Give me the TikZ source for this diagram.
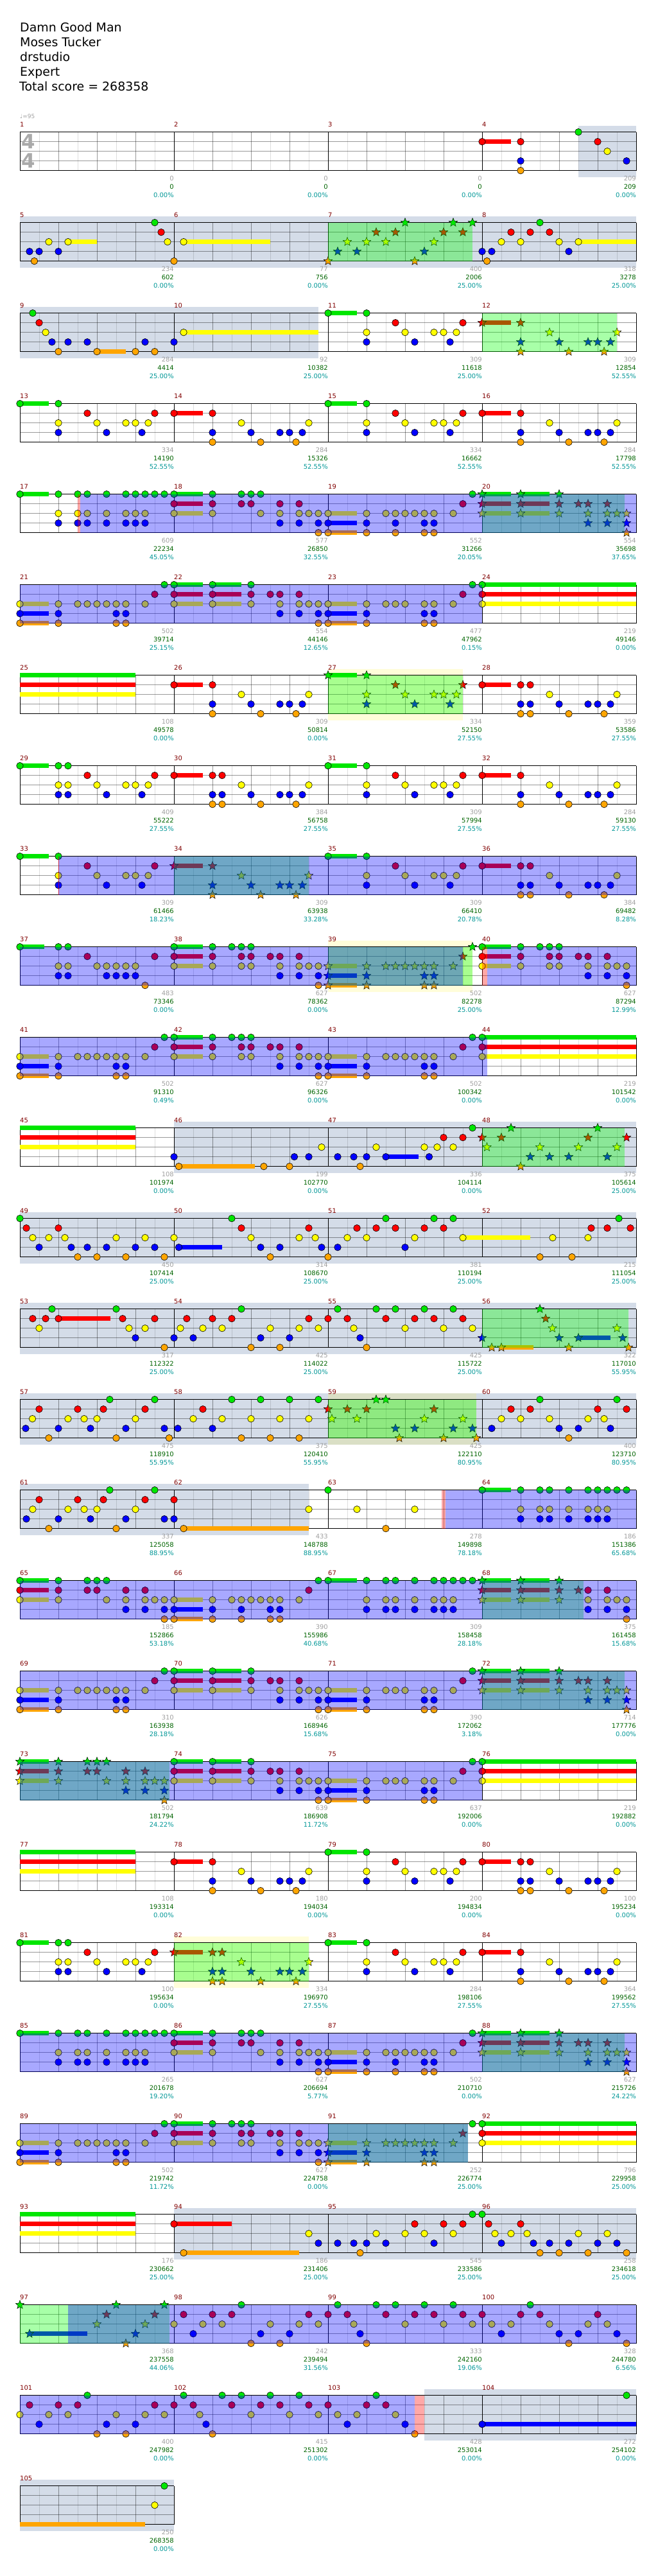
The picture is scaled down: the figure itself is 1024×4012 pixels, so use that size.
\documentclass[tikz,border=0pt]{standalone}
\usepackage{fontspec}
\setmainfont{DejaVu Sans}

\definecolor{lane0}{RGB}{0,230,0}
\definecolor{lane1}{RGB}{255,0,0}
\definecolor{lane2}{RGB}{255,255,0}
\definecolor{lane3}{RGB}{0,0,255}
\definecolor{lane4}{RGB}{255,165,0}
\definecolor{sectgray}{RGB}{212,220,232}
\definecolor{barred}{RGB}{128,0,0}
\definecolor{gaingray}{RGB}{160,160,160}
\definecolor{totgreen}{RGB}{0,100,0}
\definecolor{pctteal}{RGB}{0,150,150}
\definecolor{tsgray}{RGB}{170,170,170}

\tikzset{
  barnum/.style={anchor=base west,inner sep=0pt,text=barred,font=\fontsize{10}{12}\selectfont},
  gainnum/.style={anchor=base east,inner sep=0pt,text=gaingray,font=\fontsize{10}{12}\selectfont},
  totnum/.style={gainnum,text=totgreen},
  pctnum/.style={gainnum,text=pctteal},
  header/.style={anchor=base west,inner sep=0pt,font=\fontsize{19}{23}\selectfont},
  tsnum/.style={inner sep=0pt,text=tsgray,font=\fontsize{31}{31}\selectfont\bfseries},
}

\newenvironment{chartrow}[1]{\begin{scope}[shift={(31,{3806.3-141*#1})}]\def\rowno{#1}}{\end{scope}}
\newcommand\grayzone[2]{\fill[sectgray] (15*#1,10) rectangle (15*#2,-70);}
\newcommand\yellowzone[2]{\fill[yellow,opacity=.15] (15*#1,10) rectangle (15*#2,-70);}
\newcommand\spzone[2]{\fill[green,opacity=.34] (15*#1,0) rectangle (15*#2,-60);}
\newcommand\bluezone[2]{\fill[blue,opacity=.34] (15*#1,0) rectangle (15*#2,-60);}
\newcommand\pinkzone[2]{\fill[red,opacity=.34] (15*#1,0) rectangle (15*#2,-60);}
\newcommand\staff[1]{%
  \foreach \i in {1,...,#1}{
    \foreach \j in {0,...,3} \draw[black,opacity=.13] ({240*(\i-1)+60*\j+30},0) -- ++(0,-60);
    \foreach \j in {1,2,3} \draw[black,opacity=.4] ({240*(\i-1)+60*\j},0) -- ++(0,-60);
  }
  \foreach \y in {15,30,45} \draw[black,opacity=.4] (0,-\y) -- (240*#1,-\y);
  \foreach \i in {0,...,#1} \draw[black,line width=1bp] (240*\i,0) -- (240*\i,-60);
  \draw[black,line width=1.2bp] (0,0) -- (240*#1,0) (0,-60) -- (240*#1,-60);
}
\newcommand\sus[1]{\foreach \t/\l/\n in {#1} \fill[lane\l] (15*\t,-15*\l+3.5) rectangle ({15*(\t+\n)},-15*\l-3.5);}
\newcommand\heads[1]{\foreach \t/\l in {#1} \filldraw[fill=lane\l,draw=black,line width=.6bp] (15*\t,-15*\l) circle (5.3);}
\newcommand\stars[1]{\foreach \t/\l in {#1} \filldraw[fill=lane\l,draw=black,line width=.5bp] (15*\t,-15*\l)
  +(90:7) -- +(126:3) -- +(162:7) -- +(198:3) -- +(234:7) -- +(270:3) -- +(306:7) -- +(342:3) -- +(18:7) -- +(54:3) -- cycle;}
\newcommand\barnums[1]{\foreach \k in {1,...,#1}{
  \pgfmathtruncatemacro\m{4*\rowno+\k}
  \node[barnum] (bar\m) at (240*\k-240,7.7) {\m};}}
\newcommand\scores[1]{\foreach \g/\s/\p [count=\k] in {#1}{
  \pgfmathtruncatemacro\m{4*\rowno+\k}
  \node[gainnum] (gain\m) at (240*\k,-76.3) {\g};
  \node[totnum] (tot\m) at (240*\k,-89.3) {\s};
  \node[pctnum] (pct\m) at (240*\k,-102.3) {\p\%};}}

\begin{document}
\begin{tikzpicture}[x=1bp,y=1bp]
\path[use as bounding box] (0,0) rectangle (1024,4012);
\node[header] (title) at (31,3962.7) {Damn Good Man};
\node[header] (artist) at (31,3939.7) {Moses Tucker};
\node[header] (charter) at (31,3916.3) {drstudio};
\node[header] (level) at (31,3893.7) {Expert};
\node[header] (total) at (30,3870.7) {Total score = 268358};
\node[anchor=base west,inner sep=0pt,text=gaingray,font=\fontsize{9}{11}\selectfont] (tempo) at (31,3827) {♩=95};

\begin{chartrow}{0}
\grayzone{58}{64}
\staff{4}
\sus{48/1/3}
\heads{48/1,52/1,52/3,52/4,58/0,60/1,61/2,63/3}
\node[tsnum] (tsup) at (13.5,-15) {4};
\node[tsnum] (tsdown) at (13.5,-45) {4};
\barnums{4}
\scores{0/0/0.00,0/0/0.00,0/0/0.00,209/209/0.00}
\end{chartrow}

\begin{chartrow}{1}
\grayzone{0}{64}
\staff{4}
\sus{5/2/3,17/2/9,58/2/6}
\heads{1/3,1.5/4,2/3,3/2,4/3,5/2,14/0,14.67/1,15.33/2,16/4,17/2,48/3,48.5/4,49/3,50/2,51/1,52/2,53/1,54/0,55/1,56/2,57/3,58/2}
\stars{32/4,33/3,34/2,35/3,36/2,37/1,38/2,39/1,40/0,41/4,42/3,43/2,44/1,45/0,46/1,47/0}
\spzone{32}{47}
\barnums{4}
\scores{234/602/0.00,77/756/0.00,400/2006/25.00,318/3278/25.00}
\end{chartrow}

\begin{chartrow}{2}
\grayzone{0}{31}
\staff{4}
\sus{8/4/3,17/2/14,32/0/3,48/1/3}
\heads{1.33/0,2/1,2.67/2,3.33/3,4/4,5/3,7/3,8/4,12/4,13/3,14/4,16/3,17/2,32/0,36/0,36/2,36/3,39/1,40/2,41/3,43/2,44/2,44.67/3,45.33/2,46/1}
\stars{48/1,52/1,52/3,52/4,55/2,56/3,57/4,59/3,60/3,60.67/4,61.33/3,62/2}
\spzone{48}{62}
\barnums{4}
\scores{284/4414/25.00,92/10382/25.00,309/11618/25.00,309/12854/52.55}
\end{chartrow}

\begin{chartrow}{3}
\staff{4}
\sus{0/0/3,16/1/3,32/0/3,48/1/3}
\heads{0/0,4/0,4/2,4/3,7/1,8/2,9/3,11/2,12/2,12.67/3,13.33/2,14/1,16/1,20/1,20/3,20/4,23/2,24/3,25/4,27/3,28/3,28.67/4,29.33/3,30/2,32/0,36/0,36/2,36/3,39/1,40/2,41/3,43/2,44/2,44.67/3,45.33/2,46/1,48/1,52/1,52/3,52/4,55/2,56/3,57/4,59/3,60/3,60.67/4,61.33/3,62/2}
\barnums{4}
\scores{334/14190/52.55,284/15326/52.55,334/16662/52.55,284/17798/52.55}
\end{chartrow}

\begin{chartrow}{4}
\staff{4}
\sus{0/0/3,16/0/3,16/1/3,16/2/3,32/2/3,32/3/3,32/4/3,48/0/3,48/1/3,48/2/3,52/0/3,52/1/3,52/2/3}
\heads{0/0,4/0,4/2,4/3,6/0,6/2,6/3,7/0,7/2,7/3,9/0,9/2,9/3,11/0,11/2,11/3,12/0,12/2,12/3,13/0,13/2,13/3,14/0,15/0,16/0,16/1,16/2,20/0,20/1,20/2,23/0,23/1,24/0,24/1,25/0,25/2,27/1,27/2,27/3,29/1,29/2,29/3,30/2,31/2,31/3,31/4,32/2,32/3,32/4,36/2,36/3,36/4,38/2,39/2,39/3,39/4,40/2,41/2,42/2,42/3,42/4,43/2,43/3,43/4,45/2,46/1,47/0}
\stars{48/0,48/1,48/2,52/0,52/1,52/2,56/0,56/1,56/2,58/1,59/1,59/2,59/3,61/1,61/2,61/3,62/2,63/2,63/3,63/4}
\spzone{48}{62.8}
\pinkzone{6}{6.25}
\bluezone{6.25}{64}
\barnums{4}
\scores{609/22234/45.05,577/26850/32.55,552/31266/20.05,554/35698/37.65}
\end{chartrow}

\begin{chartrow}{5}
\staff{4}
\sus{0/2/3,0/3/3,0/4/3,16/0/3,16/1/3,16/2/3,20/0/3,20/1/3,20/2/3,32/2/3,32/3/3,32/4/3,48/0/16,48/1/16,48/2/16}
\heads{0/2,0/3,0/4,4/2,4/3,4/4,6/2,7/2,8/2,9/2,10/2,10/3,10/4,11/2,11/3,11/4,13/2,14/1,15/0,16/0,16/1,16/2,20/0,20/1,20/2,24/0,24/1,24/2,26/1,27/1,27/2,27/3,29/1,29/2,29/3,30/2,31/2,31/3,31/4,32/2,32/3,32/4,36/2,36/3,36/4,38/2,39/2,40/2,42/2,42/3,42/4,43/2,43/3,43/4,45/2,46/1,47/0,48/0,48/1,48/2}
\bluezone{0}{48}
\barnums{4}
\scores{502/39714/25.15,554/44146/12.65,477/47962/0.15,219/49146/0.00}
\end{chartrow}

\begin{chartrow}{6}
\yellowzone{32}{46}
\staff{4}
\sus{0/0/12,0/1/12,0/2/12,16/1/3,32/0/3,48/1/3}
\heads{16/1,20/1,20/3,20/4,23/2,24/3,25/4,27/3,28/3,28.67/4,29.33/3,30/2,48/1,52/1,52/3,52/4,53/1,53/3,53/4,55/2,56/3,57/4,59/3,60/3,60.67/4,61.33/3,62/2}
\stars{32/0,36/0,36/2,36/3,39/1,40/2,41/3,43/2,44/2,44.67/3,45.33/2,46/1}
\spzone{32}{46}
\barnums{4}
\scores{108/49578/0.00,309/50814/0.00,334/52150/27.55,359/53586/27.55}
\end{chartrow}

\begin{chartrow}{7}
\staff{4}
\sus{0/0/3,16/1/3,32/0/3,48/1/3}
\heads{0/0,4/0,4/2,4/3,5/0,5/2,5/3,7/1,8/2,9/3,11/2,12/2,12.67/3,13.33/2,14/1,16/1,20/1,20/3,20/4,21/1,21/3,21/4,23/2,24/3,25/4,27/3,28/3,28.67/4,29.33/3,30/2,32/0,36/0,36/2,36/3,39/1,40/2,41/3,43/2,44/2,44.67/3,45.33/2,46/1,48/1,52/1,52/3,52/4,55/2,56/3,57/4,59/3,60/3,60.67/4,61.33/3,62/2}
\barnums{4}
\scores{409/55222/27.55,384/56758/27.55,309/57994/27.55,284/59130/27.55}
\end{chartrow}

\begin{chartrow}{8}
\staff{4}
\sus{0/0/3,16/1/3,32/0/3,48/1/3}
\heads{0/0,4/0,4/2,4/3,7/1,8/2,9/3,11/2,12/2,12.67/3,13.33/2,14/1,32/0,36/0,36/2,36/3,39/1,40/2,41/3,43/2,44/2,44.67/3,45.33/2,46/1,48/1,52/1,52/3,52/4,53/1,53/3,53/4,55/2,56/3,57/4,59/3,60/3,60.67/4,61.33/3,62/2}
\stars{16/1,20/1,20/3,20/4,23/2,24/3,25/4,27/3,28/3,28.67/4,29.33/3,30/2}
\spzone{16}{30}
\bluezone{4}{64}
\draw[red,opacity=.6] (60,0) -- (60,-60);
\barnums{4}
\scores{309/61466/18.23,309/63938/33.28,309/66410/20.78,384/69482/8.28}
\end{chartrow}

\begin{chartrow}{9}
\yellowzone{32}{47}
\staff{4}
\sus{0/0/2.5,16/0/3,16/1/3,16/2/3,32/2/3,32/3/3,32/4/3,48/0/3,48/1/3,48/2/3}
\heads{0/0,4/0,4/2,4/3,5/0,5/2,5/3,7/1,8/2,9/2,9/3,10/2,10/3,11/2,11/3,12/2,12/3,13/4,14/1,16/0,16/1,16/2,20/0,20/1,20/2,22/0,23/0,23/1,23/2,24/0,24/1,24/2,26/1,27/1,27/2,27/3,29/1,29/2,29/3,30/2,31/2,31/3,31/4,48/0,48/1,48/2,52/0,52/1,52/2,54/0,55/0,55/1,55/2,56/0,56/1,56/2,58/1,59/1,59/2,59/3,61/1,61/2,61/3,62/2,63/2,63/3,63/4}
\stars{32/2,32/3,32/4,36/2,36/3,36/4,38/2,39/2,40/2,41/2,42/2,42/3,42/4,43/2,43/3,43/4,45/2,46/1,47/0}
\spzone{32}{47}
\bluezone{0}{46}
\pinkzone{48}{48.5}
\bluezone{48.5}{64}
\barnums{4}
\scores{483/73346/0.00,627/78362/0.00,502/82278/25.00,627/87294/12.99}
\end{chartrow}

\begin{chartrow}{10}
\staff{4}
\sus{0/2/3,0/3/3,0/4/3,16/0/3,16/1/3,16/2/3,32/2/3,32/3/3,32/4/3,48/0/16,48/1/16,48/2/16}
\heads{0/2,0/3,0/4,4/2,4/3,4/4,6/2,7/2,8/2,9/2,10/2,10/3,10/4,11/2,11/3,11/4,13/2,14/1,15/0,16/0,16/1,16/2,20/0,20/1,20/2,22/0,23/0,23/1,23/2,24/0,24/1,24/2,26/1,27/1,27/2,27/3,29/1,29/2,29/3,30/2,31/2,31/3,31/4,32/2,32/3,32/4,36/2,36/3,36/4,38/2,39/2,40/2,41/2,42/2,42/3,42/4,43/2,43/3,43/4,45/2,46/1,47/0,48/0,48/1,48/2}
\bluezone{0}{48.5}
\barnums{4}
\scores{502/91310/0.49,627/96326/0.00,502/100342/0.00,219/101542/0.00}
\end{chartrow}

\begin{chartrow}{11}
\grayzone{16}{64}
\staff{4}
\sus{0/0/12,0/1/12,0/2/12,16.5/4/7.9,38/3/3.4}
\heads{16/3,16.5/4,25.33/4,28/4,28.5/3,30/3,31.33/2,33/3,34.67/3,35.33/4,36/3,37/2,38/3,42/2,42.5/3,43.33/2,44/1,45/2,46/1,47/0}
\stars{48/1,48.5/2,50/1,51/0,52/4,53/3,54/2,55/3,57/3,58/2,59/1,60/0,61/3,62/2,63/1}
\spzone{48}{62.8}
\barnums{4}
\scores{108/101974/0.00,199/102770/0.00,336/104114/0.00,375/105614/25.00}
\end{chartrow}

\begin{chartrow}{12}
\grayzone{0}{64}
\staff{4}
\sus{16.5/3/4.5,46/2/7}
\heads{0/0,0.67/1,1.33/2,2/3,3/2,4/1,4.67/2,5.33/3,6/4,7/3,8/4,9/3,10/2,11/4,12/3,13/2,14/3,15/4,16/2,16.5/3,22/0,23/1,24/2,25/3,26/4,27/3,29/2,30/1,30.67/2,31.33/3,32/4,33/3,34/2,35/1,36/2,37/1,38/0,39/1,40/3,41/2,42/1,43/0,44/1,45/0,46/2,54/4,55.33/2,57.33/4,59/2,59.33/1,61/1,62.2/0,63.4/1}
\barnums{4}
\scores{450/107414/25.00,314/108670/25.00,381/110194/25.00,215/111054/25.00}
\end{chartrow}

\begin{chartrow}{13}
\grayzone{0}{64}
\staff{4}
\sus{4/1/5.4,50/4/3.3,58/3/3.3}
\heads{1.33/1,2/2,2.67/1,3.33/0,4/1,10/0,10.67/1,11.33/2,12/3,13/2,14/1,15/4,16/3,16.67/2,17.33/1,18/3,19/2,20/1,21/2,22/1,23/0,24/4,25/3,26/2,27/4,28/3,29/2,30/1,31/2,32/1,33/0,34/1,34.67/2,35.33/3,36/4,37/0,38/1,39/0,40/2,41/1,42/0,43/1,44/2,45/0,46/1,47/2}
\stars{48/3,49/4,50/4,54/0,54.6/1,55.3/2,56/3,57/4,58/3,62/2,62.6/3,63.2/4}
\spzone{48}{63.2}
\barnums{4}
\scores{317/112322/25.00,425/114022/25.00,425/115722/25.00,322/117010/55.95}
\end{chartrow}

\begin{chartrow}{14}
\grayzone{0}{64}
\yellowzone{32}{47.4}
\staff{4}
\heads{0.6/3,1.3/2,2/1,3/4,4/3,5/2,6/1,6.67/2,7.33/3,8/2,8.67/1,9.33/0,10/4,11/3,12/2,13/1,14/0,15/3,15.5/4,16.4/3,18/2,19/1,20/3,21/2,22/0,23/4,24/2,25/0,26/4,27/2,28/0,29/4,30/2,31/0,49/3,50/2,51/1,52/2,53/1,54/0,55/2,56/3,57/4,58/3,59/2,60/1,60.67/2,61.33/3,62/0,63/1}
\stars{32/1,32.4/2,34/1,35/2,36/1,37/0,38/0,39/3,39.4/4,41/3,42/2,43/1,44/4,45/3,46/2,47/3,47.4/4}
\spzone{32}{47.4}
\barnums{4}
\scores{475/118910/55.95,375/120410/55.95,425/122110/80.95,400/123710/80.95}
\end{chartrow}

\begin{chartrow}{15}
\grayzone{0}{30}
\staff{4}
\sus{17/4/13,48/0/3}
\heads{0.67/3,1.33/2,2/1,3/4,4/3,5/2,6/1,6.67/2,7.33/3,8/2,8.67/1,9.33/0,10/4,11/3,12/2,13/1,14/0,15/3,16/1,16/3,17/4,30/2,32/0,35/2,38/4,41/2,48/0,52/0,52/2,52/3,54/0,54/2,54/3,55/0,55/2,55/3,57/0,57/2,57/3,59/0,59/2,59/3,60/0,60/2,60/3,61/0,61/2,61/3,62/0,63/0}
\pinkzone{43.8}{44.2}
\bluezone{44.2}{64}
\barnums{4}
\scores{337/125058/88.95,433/148788/88.95,278/149898/78.18,186/151386/65.68}
\end{chartrow}

\begin{chartrow}{16}
\staff{4}
\sus{0/0/3,0/1/3,0/2/3,16/2/3,16/3/3,16/4/3,32/0/3,48/0/3,48/1/3,48/2/3,52/0/3,52/1/3,52/2/3}
\heads{0/0,0/1,0/2,4/0,4/1,4/2,7/0,7/1,8/0,8/1,9/0,9/2,11/1,11/2,11/3,13/1,13/2,13/3,14/2,15/2,15/3,15/4,16/2,16/3,16/4,20/2,20/3,20/4,22/2,23/2,23/3,23/4,24/2,25/2,26/2,26/3,26/4,27/2,27/3,27/4,29/2,30/1,31/0,32/0,36/0,36/2,36/3,38/0,38/2,38/3,39/0,39/2,39/3,41/0,41/2,41/3,43/0,43/2,43/3,44/0,44/2,44/3,45/0,45/2,45/3,46/0,47/0,59/1,59/2,59/3,61/1,61/2,61/3,62/2,63/2,63/3,63/4}
\stars{48/0,48/1,48/2,52/0,52/1,52/2,56/0,56/1,56/2,58/1}
\spzone{48}{58.5}
\bluezone{0}{64}
\barnums{4}
\scores{185/152866/53.18,390/155986/40.68,309/158458/28.18,375/161458/15.68}
\end{chartrow}

\begin{chartrow}{17}
\staff{4}
\sus{0/2/3,0/3/3,0/4/3,16/0/3,16/1/3,16/2/3,20/0/3,20/1/3,20/2/3,32/2/3,32/3/3,32/4/3,48/0/3,48/1/3,48/2/3,52/0/3,52/1/3,52/2/3}
\heads{0/2,0/3,0/4,4/2,4/3,4/4,6/2,7/2,8/2,9/2,10/2,10/3,10/4,11/2,11/3,11/4,13/2,14/1,15/0,16/0,16/1,16/2,20/0,20/1,20/2,24/0,24/1,24/2,26/1,27/1,27/2,27/3,29/1,29/2,29/3,30/2,31/2,31/3,31/4,32/2,32/3,32/4,36/2,36/3,36/4,38/2,39/2,40/2,42/2,42/3,42/4,43/2,43/3,43/4,45/2,46/1,47/0}
\stars{48/0,48/1,48/2,52/0,52/1,52/2,56/0,56/1,56/2,58/1,59/1,59/2,59/3,61/1,61/2,61/3,62/2,63/2,63/3,63/4}
\spzone{48}{62.8}
\bluezone{0}{64}
\barnums{4}
\scores{310/163938/28.18,626/168946/15.68,390/172062/3.18,714/177776/0.00}
\end{chartrow}

\begin{chartrow}{18}
\staff{4}
\sus{0/0/3,0/1/3,0/2/3,16/0/3,16/1/3,16/2/3,20/0/3,20/1/3,20/2/3,32/2/3,32/3/3,32/4/3,48/0/16,48/1/16,48/2/16}
\stars{0/0,0/1,0/2,4/0,4/1,4/2,7/0,7/1,8/0,8/1,9/0,9/2,11/1,11/2,11/3,13/1,13/2,13/3,14/2,15/2,15/3,15/4}
\heads{16/0,16/1,16/2,20/0,20/1,20/2,24/0,24/1,24/2,26/1,27/1,27/2,27/3,29/1,29/2,29/3,30/2,31/2,31/3,31/4,32/2,32/3,32/4,36/2,36/3,36/4,38/2,39/2,40/2,42/2,42/3,42/4,43/2,43/3,43/4,45/2,46/1,47/0,48/0,48/1,48/2}
\spzone{0}{15.5}
\bluezone{0}{48}
\barnums{4}
\scores{502/181794/24.22,639/186908/11.72,637/192006/0.00,219/192882/0.00}
\end{chartrow}

\begin{chartrow}{19}
\staff{4}
\sus{0/0/12,0/1/12,0/2/12,16/1/3,32/0/3,48/1/3}
\heads{16/1,20/1,20/3,20/4,23/2,24/3,25/4,27/3,28/3,28.67/4,29.33/3,30/2,32/0,36/0,36/2,36/3,39/1,40/2,41/3,43/2,44/2,44.67/3,45.33/2,46/1,48/1,52/1,52/3,52/4,53/1,53/3,53/4,55/2,56/3,57/4,59/3,60/3,60.67/4,61.33/3,62/2}
\barnums{4}
\scores{108/193314/0.00,180/194034/0.00,200/194834/0.00,100/195234/0.00}
\end{chartrow}

\begin{chartrow}{20}
\yellowzone{16}{30}
\staff{4}
\sus{0/0/3,16/1/3,32/0/3,48/1/3}
\heads{0/0,4/0,4/2,4/3,5/0,5/2,5/3,7/1,8/2,9/3,11/2,12/2,12.67/3,13.33/2,14/1,32/0,36/0,36/2,36/3,39/1,40/2,41/3,43/2,44/2,44.67/3,45.33/2,46/1,48/1,52/1,52/3,52/4,55/2,56/3,57/4,59/3,60/3,60.67/4,61.33/3,62/2}
\stars{16/1,20/1,20/3,20/4,21/1,21/3,21/4,23/2,24/3,25/4,27/3,28/3,28.67/4,29.33/3,30/2}
\spzone{16}{30}
\barnums{4}
\scores{100/195634/0.00,334/196970/27.55,284/198106/27.55,364/199562/27.55}
\end{chartrow}

\begin{chartrow}{21}
\staff{4}
\sus{0/0/3,16/0/3,16/1/3,16/2/3,32/2/3,32/3/3,32/4/3,48/0/3,48/1/3,48/2/3,52/0/3,52/1/3,52/2/3}
\heads{0/0,4/0,4/2,4/3,6/0,6/2,6/3,7/0,7/2,7/3,9/0,9/2,9/3,11/0,11/2,11/3,12/0,12/2,12/3,13/0,13/2,13/3,14/0,15/0,16/0,16/1,16/2,20/0,20/1,20/2,23/0,23/1,24/0,24/1,25/0,25/2,27/1,27/2,27/3,29/1,29/2,29/3,30/2,31/2,31/3,31/4,32/2,32/3,32/4,36/2,36/3,36/4,38/2,39/2,39/3,39/4,40/2,41/2,42/2,42/3,42/4,43/2,43/3,43/4,45/2,46/1,47/0}
\stars{48/0,48/1,48/2,52/0,52/1,52/2,56/0,56/1,56/2,58/1,59/1,59/2,59/3,61/1,61/2,61/3,62/2,63/2,63/3,63/4}
\spzone{48}{62.8}
\bluezone{0}{64}
\barnums{4}
\scores{265/201678/19.20,627/206694/5.77,502/210710/0.00,627/215726/24.22}
\end{chartrow}

\begin{chartrow}{22}
\staff{4}
\sus{0/2/3,0/3/3,0/4/3,16/0/3,16/1/3,16/2/3,32/2/3,32/3/3,32/4/3,48/0/16,48/1/16,48/2/16}
\heads{0/2,0/3,0/4,4/2,4/3,4/4,6/2,7/2,8/2,9/2,10/2,10/3,10/4,11/2,11/3,11/4,13/2,14/1,15/0,16/0,16/1,16/2,20/0,20/1,20/2,22/0,23/0,23/1,23/2,24/0,24/1,24/2,26/1,27/1,27/2,27/3,29/1,29/2,29/3,30/2,31/2,31/3,31/4,47/0,48/0,48/1,48/2}
\stars{32/2,32/3,32/4,36/2,36/3,36/4,38/2,39/2,40/2,41/2,42/2,42/3,42/4,43/2,43/3,43/4,45/2,46/1}
\spzone{32}{46.5}
\bluezone{0}{46.5}
\barnums{4}
\scores{502/219742/11.72,627/224758/0.00,252/226774/25.00,796/229958/25.00}
\end{chartrow}

\begin{chartrow}{23}
\grayzone{16}{64}
\staff{4}
\sus{0/0/12,0/1/12,0/2/12,16/1/6,17/4/12}
\heads{16/1,17/4,30/2,31/3,33/3,34.67/3,35.33/4,36/3,37/2,38/3,40/2,41/1,42/2,43/3,44/1,45/2,46/1,47/0,48/0,48.67/1,49.33/2,50/3,51/2,52/1,52.67/2,53.33/3,54/4,55/3,56/4,57/3,58/2,59/4,60/3,61/2,62/3,63/4}
\barnums{4}
\scores{176/230662/25.00,186/231406/25.00,545/233586/25.00,258/234618/25.00}
\end{chartrow}

\begin{chartrow}{24}
\staff{4}
\sus{1/3/6}
\stars{0/0,1/3,8/2,9/1,10/0,11/4,12/3,13/2,14/1,15/0}
\heads{16/2,17/1,18/3,19/2,20/1,21/2,22/1,23/0,24/4,25/3,26/2,27/4,28/3,29/2,30/1,31/2,32/1,33/0,34/1,34.67/2,35.33/3,36/4,37/0,38/1,39/0,40/2,41/1,42/0,43/1,44/2,45/0,46/1,47/2,48/1,49/2,50/3,51/2,52/1,53/0,54/1,55/2,56/3,57/4,58/3,59/2,60/1,61/2,62/3,63/4}
\spzone{0}{15.5}
\bluezone{5}{64}
\barnums{4}
\scores{368/237558/44.06,242/239494/31.56,333/242160/19.06,328/244780/6.56}
\end{chartrow}

\begin{chartrow}{25}
\grayzone{42}{64}
\staff{4}
\sus{48/3/16}
\heads{0/2,1/1,2/3,3/2,4/1,5/2,6/1,7/0,8/4,9/3,10/2,11/4,12/3,13/2,14/1,15/2,16/1,17/0,18/1,18.67/2,19.33/3,20/4,21/0,22/1,23/0,24/2,25/1,26/0,27/1,28/2,29/0,30/1,31/2,32/1,33/2,34/3,35/2,36/1,37/0,38/1,39/2,40/3,41/4,48/3,63/0}
\pinkzone{41}{42}
\bluezone{0}{41}
\barnums{4}
\scores{400/247982/0.00,415/251302/0.00,428/253014/0.00,272/254102/0.00}
\end{chartrow}

\begin{chartrow}{26}
\grayzone{0}{16}
\staff{1}
\sus{0/4/13}
\heads{14/2,15/0}
\barnums{1}
\scores{250/268358/0.00}
\end{chartrow}
\end{tikzpicture}
\end{document}
